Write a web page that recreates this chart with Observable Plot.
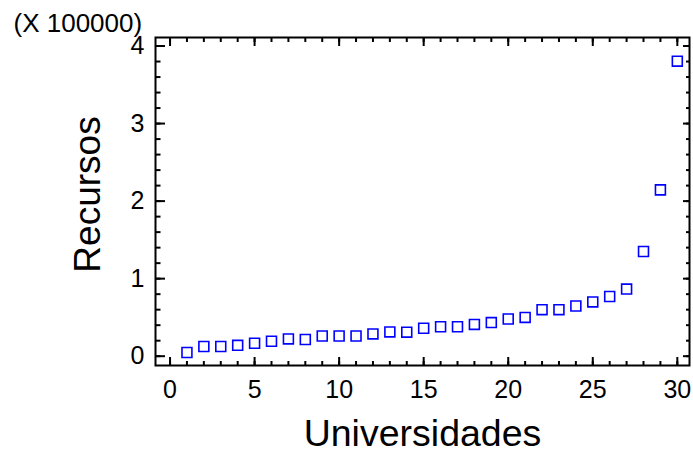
<!DOCTYPE html>
<html>
<head>
<meta charset="utf-8">
<script src="https://cdn.jsdelivr.net/npm/d3@7"></script>
<script src="https://cdn.jsdelivr.net/npm/@observablehq/plot@0.6"></script>
<style>
  html, body { margin: 0; padding: 0; background: #fff; }
  #chart svg { display: block; }
</style>
</head>
<body>
<div id="chart"></div>
<script>
const universidades = [1,2,3,4,5,6,7,8,9,10,11,12,13,14,15,16,17,18,19,20,21,22,23,24,25,26,27,28,29,30];
const recursos = [4800,12500,12500,14000,16700,19300,22300,21500,26000,26000,26000,28700,31300,31000,36000,38000,38000,41000,43400,48000,50000,60000,60000,64700,70000,77000,86600,135000,214500,380500];
const xMajorTicks = [0,5,10,15,20,25,30];
const xMinorTicks = [0,1,2,3,4,5,6,7,8,9,10,11,12,13,14,15,16,17,18,19,20,21,22,23,24,25,26,27,28,29,30];
const yMajorTicks = [0,100000,200000,300000,400000];
const yMinorTicks = [0,20000,40000,60000,80000,100000,120000,140000,160000,180000,200000,220000,240000,260000,280000,300000,320000,340000,360000,380000,400000];
const xTitle = "Universidades";
const yTitle = "Recursos";
const scaleNote = "(X 100000)";

const data = universidades.map((u, i) => ({u, r: recursos[i]}));
const blank = () => "";
const font = "Liberation Sans, Arial, Helvetica, sans-serif";

const chart = Plot.plot({
  width: 693,
  height: 456,
  marginLeft: 155,
  marginRight: 4,
  marginTop: 37,
  marginBottom: 91,
  style: {fontFamily: font, background: "#fff", color: "#000", overflow: "visible"},
  x: {domain: [-0.86, 30.72]},
  y: {domain: [-12000, 411000]},
  marks: [
    Plot.frame({stroke: "#000", strokeWidth: 2}),
    // inward tick marks, all four sides
    Plot.axisX({anchor: "bottom", ticks: xMajorTicks, tickSize: -8, strokeWidth: 2, tickFormat: blank, label: null}),
    Plot.axisX({anchor: "bottom", ticks: xMinorTicks, tickSize: -4, strokeWidth: 2, tickFormat: blank, label: null}),
    Plot.axisX({anchor: "top", ticks: xMajorTicks, tickSize: -8, strokeWidth: 2, tickFormat: blank, label: null}),
    Plot.axisX({anchor: "top", ticks: xMinorTicks, tickSize: -4, strokeWidth: 2, tickFormat: blank, label: null}),
    Plot.axisY({anchor: "left", ticks: yMajorTicks, tickSize: -10, strokeWidth: 2, tickFormat: blank, label: null}),
    Plot.axisY({anchor: "left", ticks: yMinorTicks, tickSize: -5.5, strokeWidth: 2, tickFormat: blank, label: null}),
    Plot.axisY({anchor: "right", ticks: yMajorTicks, tickSize: -7, strokeWidth: 2, tickFormat: blank, label: null}),
    Plot.axisY({anchor: "right", ticks: yMinorTicks, tickSize: -4, strokeWidth: 2, tickFormat: blank, label: null}),
    // tick labels
    Plot.axisX({anchor: "bottom", ticks: xMajorTicks, tickSize: 0, tickPadding: 15, fontSize: 25, label: null, tickFormat: d => String(d)}),
    Plot.axisY({anchor: "left", ticks: yMajorTicks, tickSize: 0, tickPadding: 11, fontSize: 25, label: null, tickFormat: d => String(d / 100000)}),
    // data
    Plot.dot(data, {x: "u", y: "r", symbol: "square", r: 5.6, stroke: "#0000ff", strokeWidth: 1.6, fill: "none"}),
    // titles
    Plot.text([xTitle], {frameAnchor: "bottom", textAnchor: "middle", lineAnchor: "bottom", dy: 80.7, fontSize: 37.5, fill: "#000"}),
    Plot.text([yTitle], {frameAnchor: "left", textAnchor: "middle", lineAnchor: "bottom", rotate: -90, dx: -56, dy: -7, fontSize: 37, fill: "#000"}),
    Plot.text([scaleNote], {frameAnchor: "top-left", textAnchor: "start", lineAnchor: "bottom", dx: -142, dy: -5.5, fontSize: 26, fill: "#000"})
  ]
});
document.getElementById("chart").appendChild(chart);
</script>
</body>
</html>
